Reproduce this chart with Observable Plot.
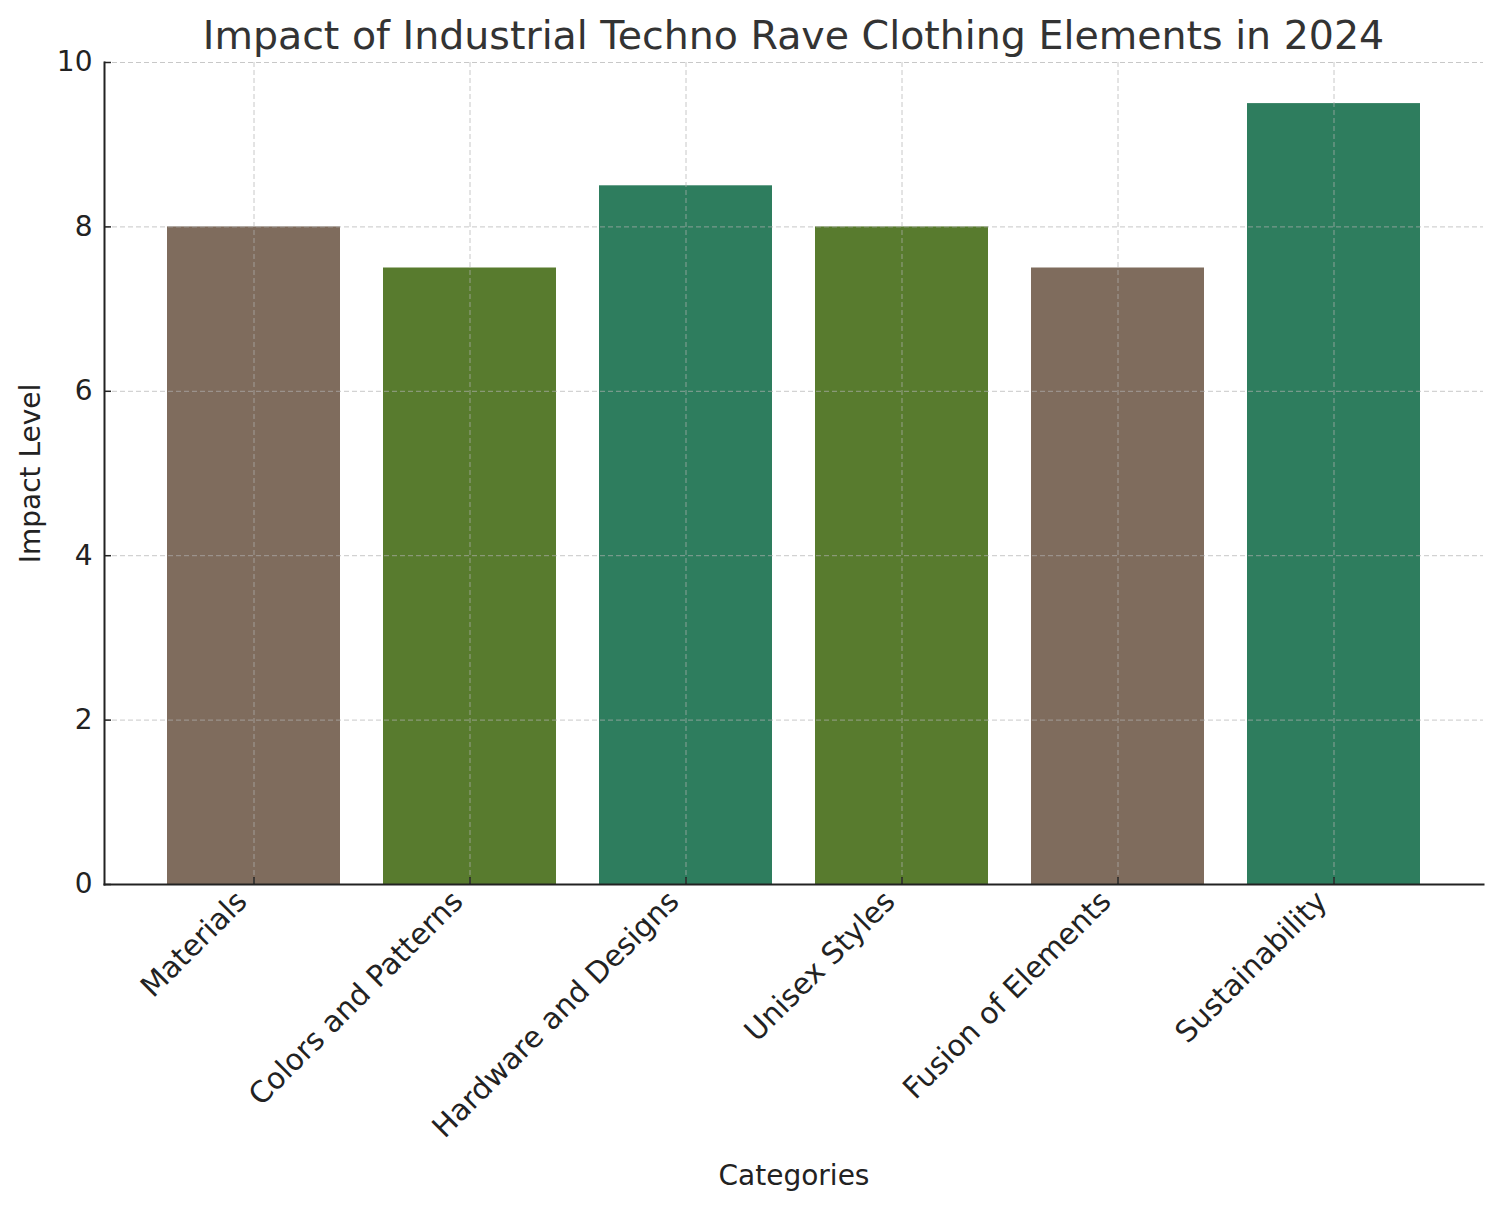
<!DOCTYPE html>
<html>
<head>
<meta charset="utf-8">
<script src="https://cdn.jsdelivr.net/npm/d3@7"></script>
<script src="https://cdn.jsdelivr.net/npm/@observablehq/plot@0.6"></script>
<style>
  body { margin: 0; background: #fff; font-family: "DejaVu Sans", sans-serif; }
  #wrap { position: relative; width: 1500px; height: 1208px; }
  #title { position: absolute; left: 104px; width: 1379px; top: 10px; text-align: center; font-size: 39.5px; color: #333; line-height: 50px; z-index: 2; }
  #chart { position: absolute; left: 0; top: 0; z-index: 1; }
</style>
</head>
<body>
<div id="wrap">
  <div id="chart"></div>
  <div id="title">Impact of Industrial Techno Rave Clothing Elements in 2024</div>
</div>
<script>
const categories = ["Materials", "Colors and Patterns", "Hardware and Designs", "Unisex Styles", "Fusion of Elements", "Sustainability"];
const values = [8, 7.5, 8.5, 8, 7.5, 9.5];
const colors = ["#7f6c5d", "#587b2e", "#2e7d5e", "#587b2e", "#7f6c5d", "#2e7d5e"];
const yTicks = [0, 2, 4, 6, 8, 10];

const data = categories.map((c, i) => ({category: c, value: values[i], color: colors[i]}));

const chart = Plot.plot({
  width: 1500,
  height: 1208,
  marginTop: 62,
  marginLeft: 104,
  marginRight: 17,
  marginBottom: 324,
  style: {fontFamily: "DejaVu Sans", fontSize: "28px", color: "#222", background: "transparent"},
  x: {domain: categories, paddingInner: 0.2, paddingOuter: 0.287},
  y: {domain: [0, 10]},
  color: {type: "identity"},
  marks: [
    Plot.barY(data, {x: "category", y: "value", fill: "color"}),
    Plot.gridX({stroke: "#b0b0b0", strokeOpacity: 0.7, strokeDasharray: "5,3", strokeWidth: 1}),
    Plot.gridY({ticks: yTicks, stroke: "#b0b0b0", strokeOpacity: 0.7, strokeDasharray: "5,3", strokeWidth: 1}),
    // inward tick marks only
    Plot.axisX({tickSize: -7, tickFormat: () => "", stroke: "#222", strokeWidth: 1.5, label: null}),
    Plot.axisY({ticks: yTicks, tickSize: -7, tickFormat: () => "", stroke: "#222", strokeWidth: 1.5, label: null}),
    // rotated x tick labels only
    Plot.axisX({tickSize: 0, tickRotate: -45, tickPadding: 12, fontSize: 29.5, dx: -12, label: null}),
    // axis titles and y tick labels
    Plot.axisX({ticks: [], tickSize: 0,
      label: "Categories", labelAnchor: "center", labelOffset: 300, labelArrow: "none"}),
    Plot.axisY({ticks: yTicks, tickSize: 0, tickPadding: 12, fontSize: 28,
      label: "Impact Level", labelAnchor: "center", labelOffset: 84, labelArrow: "none"}),
    Plot.frame({anchor: "left", stroke: "#222", strokeWidth: 2}),
    Plot.frame({anchor: "bottom", stroke: "#222", strokeWidth: 2})
  ]
});
document.getElementById("chart").appendChild(chart);
</script>
</body>
</html>
